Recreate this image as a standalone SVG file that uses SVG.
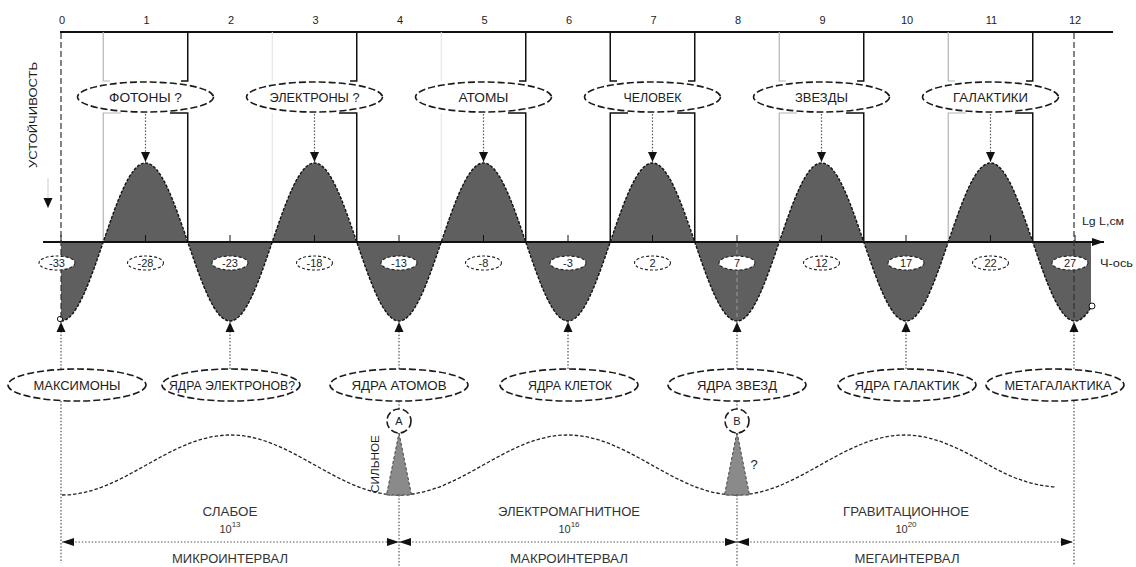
<svg xmlns="http://www.w3.org/2000/svg" width="1136" height="567" viewBox="0 0 1136 567">
<defs>
<style>
.t{font-family:"Liberation Sans",Arial,sans-serif;fill:#1c1c1c;text-anchor:middle}
.big{font-size:12.5px}
.sm{font-size:11px}
.ell{fill:#fff;stroke:#1a1a1a;stroke-width:1.6;stroke-dasharray:7 3}
.ells{fill:#fff;stroke:#222;stroke-width:1.1;stroke-dasharray:3 2}
.frm{fill:none;stroke:#111;stroke-width:1.5}
.frg{fill:none;stroke:#b4b4b4;stroke-width:1.2}
.frf{fill:none;stroke:#e2e2e2;stroke-width:1}
.dot{fill:none;stroke:#555;stroke-width:1.2;stroke-dasharray:1.5 1.8}
.dash{fill:none;stroke:#333;stroke-width:1.2;stroke-dasharray:6 3}
.tri{fill:#8a8a8a;stroke:#444;stroke-width:1;stroke-dasharray:3 2}
</style>
<marker id="ah" viewBox="0 0 10 10" refX="10" refY="5" markerWidth="10" markerHeight="10" markerUnits="userSpaceOnUse" orient="auto-start-reverse"><path d="M0,0.5 L10,5 L0,9.5 z" fill="#111"/></marker>
<marker id="ai" viewBox="0 0 12 8" refX="12" refY="4" markerWidth="12" markerHeight="8" markerUnits="userSpaceOnUse" orient="auto-start-reverse"><path d="M0,0 L12,4 L0,8 z" fill="#111"/></marker>
</defs>
<rect width="1136" height="567" fill="#fff"/>

<!-- top scale: lg L steps -->
<g id="scale">
<line x1="60" y1="32" x2="1113" y2="32" stroke="#111" stroke-width="2"/>
<g class="t sm">
<text x="62" y="24">0</text><text x="146.5" y="24">1</text><text x="231" y="24">2</text><text x="315.5" y="24">3</text>
<text x="400" y="24">4</text><text x="484.5" y="24">5</text><text x="569" y="24">6</text><text x="653.5" y="24">7</text>
<text x="738" y="24">8</text><text x="822.5" y="24">9</text><text x="907" y="24">10</text><text x="991.5" y="24">11</text>
<text x="1075" y="24">12</text>
</g>
</g>

<!-- frames around the stable objects -->
<g id="frames">
<path class="frg" d="M103.25,32 V81 H110 M121,113 H103.25 V242"/>
<path class="frm" d="M187.75,32 V81 H181 M170,113 H187.75 V242"/>
<path class="frf" d="M272.25,32 V81 M272.25,113 V242"/>
<path class="frm" d="M356.75,32 V81 H350 M339,113 H356.75 V242"/>
<path class="frf" d="M441.25,32 V81 M441.25,113 V242"/>
<path class="frm" d="M525.75,32 V81 H519 M508,113 H525.75 V242"/>
<path class="frm" d="M610.25,32 V81 H617 M628,113 H610.25 V242"/>
<path class="frm" d="M694.75,32 V81 H688 M677,113 H694.75 V242"/>
<path class="frg" d="M779.25,32 V81 H786 M797,113 H779.25 V242"/>
<path class="frm" d="M863.75,32 V81 H857 M846,113 H863.75 V242"/>
<path class="frg" d="M948.25,32 V81 H955 M966,113 H948.25 V242"/>
<path class="frm" d="M1032.75,32 V81 H1026 M1015,113 H1032.75 V242"/>
</g>

<!-- stability wave -->
<g id="wave">
<path fill="#5f5f5f" d="M61,242 V321 c15.29,0 28.47,-38.53 42.25,-79 c13.78,-40.47 26.96,-79 42.25,-79 c15.29,0 28.47,38.53 42.25,79 c13.78,40.47 26.96,79 42.25,79 c15.29,0 28.47,-38.53 42.25,-79 c13.78,-40.47 26.96,-79 42.25,-79 c15.29,0 28.47,38.53 42.25,79 c13.78,40.47 26.96,79 42.25,79 c15.29,0 28.47,-38.53 42.25,-79 c13.78,-40.47 26.96,-79 42.25,-79 c15.29,0 28.47,38.53 42.25,79 c13.78,40.47 26.96,79 42.25,79 c15.29,0 28.47,-38.53 42.25,-79 c13.78,-40.47 26.96,-79 42.25,-79 c15.29,0 28.47,38.53 42.25,79 c13.78,40.47 26.96,79 42.25,79 c15.29,0 28.47,-38.53 42.25,-79 c13.78,-40.47 26.96,-79 42.25,-79 c15.29,0 28.47,38.53 42.25,79 c13.78,40.47 26.96,79 42.25,79 c15.29,0 28.47,-38.53 42.25,-79 c13.78,-40.47 26.96,-79 42.25,-79 c15.29,0 28.47,38.53 42.25,79 c13.78,40.47 26.96,79 42.25,79 c6,0 11,-5.4 16,-13.6 V242 Z"/>
<path fill="none" stroke="#111" stroke-width="1.4" stroke-dasharray="3 1.5" d="M61,321 c15.29,0 28.47,-38.53 42.25,-79 c13.78,-40.47 26.96,-79 42.25,-79 c15.29,0 28.47,38.53 42.25,79 c13.78,40.47 26.96,79 42.25,79 c15.29,0 28.47,-38.53 42.25,-79 c13.78,-40.47 26.96,-79 42.25,-79 c15.29,0 28.47,38.53 42.25,79 c13.78,40.47 26.96,79 42.25,79 c15.29,0 28.47,-38.53 42.25,-79 c13.78,-40.47 26.96,-79 42.25,-79 c15.29,0 28.47,38.53 42.25,79 c13.78,40.47 26.96,79 42.25,79 c15.29,0 28.47,-38.53 42.25,-79 c13.78,-40.47 26.96,-79 42.25,-79 c15.29,0 28.47,38.53 42.25,79 c13.78,40.47 26.96,79 42.25,79 c15.29,0 28.47,-38.53 42.25,-79 c13.78,-40.47 26.96,-79 42.25,-79 c15.29,0 28.47,38.53 42.25,79 c13.78,40.47 26.96,79 42.25,79 c15.29,0 28.47,-38.53 42.25,-79 c13.78,-40.47 26.96,-79 42.25,-79 c15.29,0 28.47,38.53 42.25,79 c13.78,40.47 26.96,79 42.25,79 c6,0 11,-5.4 16,-13.6"/>
<circle cx="60" cy="319" r="2.6" fill="#fff" stroke="#111" stroke-width="1"/>
<circle cx="1092" cy="306" r="3" fill="#fff" stroke="#111" stroke-width="1"/>
</g>

<!-- axes -->
<g id="axes">
<line x1="43" y1="242" x2="1104" y2="242" stroke="#111" stroke-width="2" marker-end="url(#ai)"/>
<path stroke="#111" stroke-width="1" d="M61,235V242 M145.5,235V242 M230,235V242 M314.5,235V242 M399,235V242 M483.5,235V242 M568,235V242 M652.5,235V242 M737,235V242 M821.5,235V242 M906,235V242 M990.5,235V242 M1075,235V242"/>
<line class="dash" x1="61" y1="33" x2="61" y2="319"/>
<line class="dash" x1="1074" y1="33" x2="1074" y2="320"/>
<line x1="737" y1="243" x2="737" y2="320" stroke="#9a9a9a" stroke-width="1" stroke-dasharray="4 3"/>
<line x1="48" y1="178" x2="48" y2="208" stroke="#cfcfcf" stroke-width="1" marker-end="url(#ah)"/>
<text class="t sm" transform="translate(37,115) rotate(-90)" textLength="106" lengthAdjust="spacingAndGlyphs">УСТОЙЧИВОСТЬ</text>
<text class="t sm" x="1082" y="225" style="text-anchor:start" textLength="42" lengthAdjust="spacingAndGlyphs">Lg L,см</text>
<text class="t sm" x="1100" y="267" style="text-anchor:start" textLength="33" lengthAdjust="spacingAndGlyphs">Ч-ось</text>
</g>

<!-- connectors -->
<g id="connectors">
<line class="dot" x1="145.5" y1="114" x2="145.5" y2="162" marker-end="url(#ah)"/>
<line class="dot" x1="314.5" y1="114" x2="314.5" y2="162" marker-end="url(#ah)"/>
<line class="dot" x1="483.5" y1="114" x2="483.5" y2="162" marker-end="url(#ah)"/>
<line class="dot" x1="652.5" y1="114" x2="652.5" y2="162" marker-end="url(#ah)"/>
<line class="dot" x1="821.5" y1="114" x2="821.5" y2="162" marker-end="url(#ah)"/>
<line class="dot" x1="990.5" y1="114" x2="990.5" y2="162" marker-end="url(#ah)"/>
<line class="dot" x1="61" y1="369" x2="61" y2="322" marker-end="url(#ah)"/>
<line class="dot" x1="230" y1="369" x2="230" y2="322" marker-end="url(#ah)"/>
<line class="dot" x1="399" y1="369" x2="399" y2="322" marker-end="url(#ah)"/>
<line class="dot" x1="568" y1="369" x2="568" y2="322" marker-end="url(#ah)"/>
<line class="dot" x1="737" y1="369" x2="737" y2="322" marker-end="url(#ah)"/>
<line class="dot" x1="906" y1="369" x2="906" y2="322" marker-end="url(#ah)"/>
<line class="dot" x1="1074" y1="369" x2="1074" y2="322" marker-end="url(#ah)"/>
<line class="dot" x1="61" y1="401" x2="61" y2="563"/>
<line class="dot" x1="1074" y1="401" x2="1074" y2="565"/>
<line class="dot" x1="399" y1="401" x2="399" y2="409"/>
<line class="dot" x1="399" y1="495" x2="399" y2="567"/>
<line class="dot" x1="737" y1="401" x2="737" y2="409"/>
<line class="dot" x1="737" y1="495" x2="737" y2="567"/>
<line class="dot" x1="62" y1="542" x2="399" y2="542" marker-start="url(#ai)" marker-end="url(#ai)"/>
<line class="dot" x1="399" y1="542" x2="737" y2="542" marker-start="url(#ai)" marker-end="url(#ai)"/>
<line class="dot" x1="737" y1="542" x2="1073" y2="542" marker-start="url(#ai)" marker-end="url(#ai)"/>
</g>

<!-- stable objects -->
<g id="n-photons"><ellipse class="ell" cx="145.5" cy="97" rx="68" ry="15"/><text class="t big" x="145.5" y="101.5" textLength="73" lengthAdjust="spacingAndGlyphs">ФОТОНЫ ?</text></g>
<g id="n-electrons"><ellipse class="ell" cx="314.5" cy="97" rx="68" ry="15"/><text class="t big" x="314.5" y="101.5" textLength="90" lengthAdjust="spacingAndGlyphs">ЭЛЕКТРОНЫ ?</text></g>
<g id="n-atoms"><ellipse class="ell" cx="483.5" cy="97" rx="68" ry="15"/><text class="t big" x="483.5" y="101.5" textLength="50" lengthAdjust="spacingAndGlyphs">АТОМЫ</text></g>
<g id="n-human"><ellipse class="ell" cx="652.5" cy="97" rx="68" ry="15"/><text class="t big" x="652.5" y="101.5" textLength="58" lengthAdjust="spacingAndGlyphs">ЧЕЛОВЕК</text></g>
<g id="n-stars"><ellipse class="ell" cx="821.5" cy="97" rx="68" ry="15"/><text class="t big" x="821.5" y="101.5" textLength="53" lengthAdjust="spacingAndGlyphs">ЗВЕЗДЫ</text></g>
<g id="n-galaxies"><ellipse class="ell" cx="990.5" cy="97" rx="68" ry="15"/><text class="t big" x="990.5" y="101.5" textLength="75" lengthAdjust="spacingAndGlyphs">ГАЛАКТИКИ</text></g>

<!-- lg L values -->
<g id="values" class="t sm">
<g id="v0"><ellipse class="ells" cx="57" cy="263" rx="18" ry="7"/><text x="57" y="267">-33</text></g>
<g id="v1"><ellipse class="ells" cx="145.5" cy="263" rx="18" ry="7"/><text x="145.5" y="267">-28</text></g>
<g id="v2"><ellipse class="ells" cx="230" cy="263" rx="18" ry="7"/><text x="230" y="267">-23</text></g>
<g id="v3"><ellipse class="ells" cx="314.5" cy="263" rx="18" ry="7"/><text x="314.5" y="267">-18</text></g>
<g id="v4"><ellipse class="ells" cx="399" cy="263" rx="18" ry="7"/><text x="399" y="267">-13</text></g>
<g id="v5"><ellipse class="ells" cx="483.5" cy="263" rx="18" ry="7"/><text x="483.5" y="267">-8</text></g>
<g id="v6"><ellipse class="ells" cx="568" cy="263" rx="18" ry="7"/><text x="568" y="267">-3</text></g>
<g id="v7"><ellipse class="ells" cx="652.5" cy="263" rx="18" ry="7"/><text x="652.5" y="267">2</text></g>
<g id="v8"><ellipse class="ells" cx="737" cy="263" rx="18" ry="7"/><text x="737" y="267">7</text></g>
<g id="v9"><ellipse class="ells" cx="821.5" cy="263" rx="18" ry="7"/><text x="821.5" y="267">12</text></g>
<g id="v10"><ellipse class="ells" cx="906" cy="263" rx="18" ry="7"/><text x="906" y="267">17</text></g>
<g id="v11"><ellipse class="ells" cx="990.5" cy="263" rx="18" ry="7"/><text x="990.5" y="267">22</text></g>
<g id="v12"><ellipse class="ells" cx="1070" cy="263" rx="18" ry="7"/><text x="1070" y="267">27</text></g>
</g>

<!-- cores -->
<g id="n-maximons"><ellipse class="ell" cx="77" cy="385" rx="69" ry="16"/><text class="t big" x="77" y="389.5" textLength="87" lengthAdjust="spacingAndGlyphs">МАКСИМОНЫ</text></g>
<g id="n-electron-cores"><ellipse class="ell" cx="231" cy="385" rx="69" ry="16"/><text class="t big" x="232" y="389.5" textLength="126" lengthAdjust="spacingAndGlyphs">ЯДРА ЭЛЕКТРОНОВ?</text></g>
<g id="n-atom-cores"><ellipse class="ell" cx="399" cy="385" rx="69" ry="16"/><text class="t big" x="399" y="389.5" textLength="95" lengthAdjust="spacingAndGlyphs">ЯДРА АТОМОВ</text></g>
<g id="n-cell-cores"><ellipse class="ell" cx="569" cy="385" rx="69" ry="16"/><text class="t big" x="570" y="389.5" textLength="84" lengthAdjust="spacingAndGlyphs">ЯДРА КЛЕТОК</text></g>
<g id="n-star-cores"><ellipse class="ell" cx="737" cy="385" rx="69" ry="16"/><text class="t big" x="737" y="389.5" textLength="80" lengthAdjust="spacingAndGlyphs">ЯДРА ЗВЕЗД</text></g>
<g id="n-galaxy-cores"><ellipse class="ell" cx="907" cy="385" rx="69" ry="16"/><text class="t big" x="907" y="389.5" textLength="105" lengthAdjust="spacingAndGlyphs">ЯДРА ГАЛАКТИК</text></g>
<g id="n-metagalaxy"><ellipse class="ell" cx="1055" cy="385" rx="69" ry="16"/><text class="t big" x="1058" y="389.5" textLength="107" lengthAdjust="spacingAndGlyphs">МЕТАГАЛАКТИКА</text></g>

<!-- interaction wave -->
<g id="interactions">
<path fill="none" stroke="#222" stroke-width="1.3" stroke-dasharray="3.5 2" d="M62,495 c30.49,0 56.77,-14.63 84.25,-30 c27.48,-15.37 53.76,-30 84.25,-30 c30.49,0 56.77,14.63 84.25,30 c27.48,15.37 53.76,30 84.25,30 c30.49,0 56.77,-14.63 84.25,-30 c27.48,-15.37 53.76,-30 84.25,-30 c30.49,0 56.77,14.63 84.25,30 c27.48,15.37 53.76,30 84.25,30 c30.49,0 56.77,-14.63 84.25,-30 c27.48,-15.37 53.76,-30 84.25,-30 c30.49,0 56.77,14.63 84.25,30 c20,11.2 40,20 66,22"/>
<path class="tri" d="M399,433 L411.5,495 L386.5,495 Z"/>
<path class="tri" d="M737,432 L749.5,495 L724.5,495 Z"/>
<text class="t" style="font-size:10px" transform="translate(379,464) rotate(-90)" textLength="58" lengthAdjust="spacingAndGlyphs">СИЛЬНОЕ</text>
<text class="t" style="font-size:13px" x="754" y="469">?</text>
</g>
<g id="n-a"><circle class="ell" cx="399" cy="421" r="12"/><text class="t sm" x="399" y="425">A</text></g>
<g id="n-b"><circle class="ell" cx="737" cy="421" r="12"/><text class="t sm" x="737" y="425">B</text></g>

<!-- forces and intervals -->
<g id="labels" class="t big" style="fill:#333">
<text x="230" y="516" textLength="55" lengthAdjust="spacingAndGlyphs">СЛАБОЕ</text>
<text x="230" y="533" class="sm">10<tspan dy="-6" style="font-size:8px">13</tspan></text>
<text x="569" y="516" textLength="142" lengthAdjust="spacingAndGlyphs">ЭЛЕКТРОМАГНИТНОЕ</text>
<text x="569" y="533" class="sm">10<tspan dy="-6" style="font-size:8px">16</tspan></text>
<text x="906" y="516" textLength="126" lengthAdjust="spacingAndGlyphs">ГРАВИТАЦИОННОЕ</text>
<text x="906" y="533" class="sm">10<tspan dy="-6" style="font-size:8px">20</tspan></text>
<text x="230" y="563" textLength="116" lengthAdjust="spacingAndGlyphs">МИКРОИНТЕРВАЛ</text>
<text x="569" y="563" textLength="118" lengthAdjust="spacingAndGlyphs">МАКРОИНТЕРВАЛ</text>
<text x="907" y="563" textLength="105" lengthAdjust="spacingAndGlyphs">МЕГАИНТЕРВАЛ</text>
</g>
</svg>
